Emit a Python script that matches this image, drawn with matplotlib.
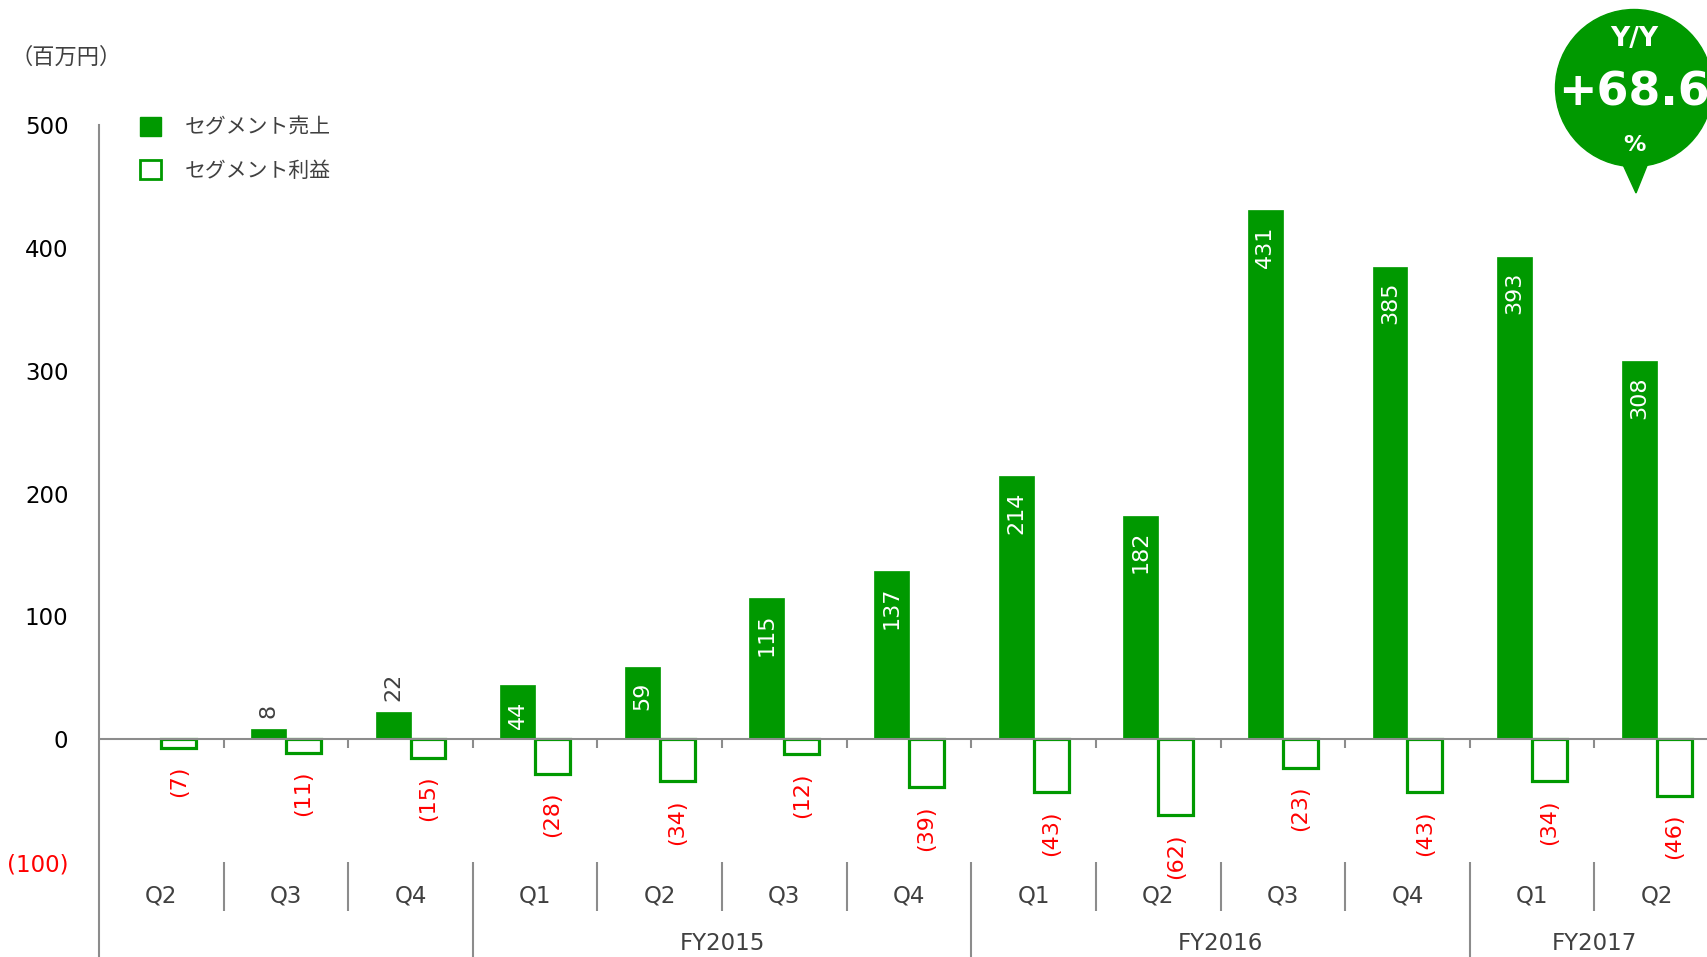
# セグメント売上・利益 (四半期)
import matplotlib.pyplot as plt
from matplotlib.figure import Figure
from matplotlib.axes import Axes
from matplotlib.patches import Patch, Circle, Polygon
import numpy as np

plt.rcParams['font.family'] = ['DejaVu Sans', 'Noto Sans CJK JP']

# データ
quarters = ['Q2', 'Q3', 'Q4', 'Q1', 'Q2', 'Q3', 'Q4', 'Q1', 'Q2', 'Q3', 'Q4', 'Q1', 'Q2']
fiscal_years = ['', 'FY2015', 'FY2016', 'FY2017']
fy_sizes = [3, 4, 4, 2]
sales = [np.nan, 8, 22, 44, 59, 115, 137, 214, 182, 431, 385, 393, 308]
profit = [-7, -11, -15, -28, -34, -12, -39, -43, -62, -23, -43, -34, -46]
yticks = [-100, 0, 100, 200, 300, 400, 500]
ytick_labels = ['(100)', '0', '100', '200', '300', '400', '500']
yoy_value = '+68.6'

GREEN = '#009900'
GRAY = '#404040'
AXIS = '#8c8c8c'
RED = '#ff0000'

W, H = 1708, 957
fig: Figure = plt.figure(figsize=(W / 100, H / 100), dpi=100)
ax: Axes = fig.add_axes([99 / W, 0, 1620 / W, (H - 125.3) / H])

x = np.arange(len(quarters))
w = 0.28
ax.bar(x - w / 2, sales, width=w, color=GREEN, edgecolor=GREEN, linewidth=0.5)
ax.bar(x + w / 2, profit, width=w, facecolor='white', edgecolor=GREEN, linewidth=2.3)

ax.set_xlim(-0.5, len(quarters) - 0.5)
ax.set_ylim(-177.3, 500)

# 値ラベル
for xi, v in zip(x, sales):
    if np.isnan(v):
        continue
    if v >= 40:
        ax.annotate(f'{v:.0f}', (xi - w / 2, v), xytext=(0, -11), textcoords='offset points',
                    rotation=90, ha='center', va='top', color='white', fontsize=16)
    else:
        ax.annotate(f'{v:.0f}', (xi - w / 2, v), xytext=(0, 8), textcoords='offset points',
                    rotation=90, ha='center', va='bottom', color=GRAY, fontsize=16)

for xi, v in zip(x, profit):
    ax.annotate(f'({-v})', (xi + w / 2, v), xytext=(0, -13), textcoords='offset points',
                rotation=90, ha='center', va='top', color=RED, fontsize=16)

# 軸
for s in ['top', 'right', 'bottom']:
    ax.spines[s].set_visible(False)
ax.spines['left'].set_color(AXIS)
ax.spines['left'].set_linewidth(1.5)
ax.axhline(0, color=AXIS, lw=1.5, zorder=3)
ax.set_xticks([])
ax.set_yticks(yticks)
ax.set_yticklabels(ytick_labels)
ax.tick_params(axis='y', length=0, pad=22, labelsize=16.5, labelcolor='black')
ax.get_yticklabels()[0].set_color(RED)

bounds = x[:-1] + 0.5
ax.vlines(bounds, -7, 0, color=AXIS, lw=1.5)

# カテゴリ区切り
group_edges = np.cumsum(fy_sizes)[:-1] - 0.5
for b in bounds:
    if b in group_edges:
        ax.vlines(b, -177.3, -100, color=AXIS, lw=1.5, clip_on=False)
    else:
        ax.vlines(b, -140, -100, color=AXIS, lw=1.5)

for xi, q in zip(x, quarters):
    ax.text(xi, -127.5, q, ha='center', va='center', color=GRAY, fontsize=16.5)

start = 0
for fy, n in zip(fiscal_years, fy_sizes):
    if fy:
        ax.text(start + n / 2 - 0.5, -166.5, fy, ha='center', va='center', color=GRAY, fontsize=16.5)
    start += n

# 凡例
handles = [Patch(facecolor=GREEN, edgecolor=GREEN),
           Patch(facecolor='white', edgecolor=GREEN, linewidth=2)]
fig.legend(handles, ['セグメント売上', 'セグメント利益'], loc='upper left',
           bbox_to_anchor=(140 / W, 1 - 117 / H), frameon=False, fontsize=15,
           handlelength=1.0, handleheight=1.0, handletextpad=1.15, labelspacing=1.1,
           borderpad=0, borderaxespad=0, labelcolor=GRAY)

fig.text(11 / W, 1 - 57 / H, '（百万円）', ha='left', va='center', color=GRAY, fontsize=16)

# Y/Y バッジ
ov: Axes = fig.add_axes([0, 0, 1, 1])
ov.set_xlim(0, W)
ov.set_ylim(H, 0)
ov.axis('off')
ov.add_patch(Circle((1634, 88), 78.5, color=GREEN))
ov.add_patch(Polygon([(1620, 158), (1650, 158), (1636, 193)], closed=True, color=GREEN))
ov.text(1634, 39, 'Y/Y', ha='center', va='center', color='white', fontsize=19, fontweight='bold')
ov.text(1634, 93, yoy_value, ha='center', va='center', color='white', fontsize=33, fontweight='bold')
ov.text(1634, 145, '%', ha='center', va='center', color='white', fontsize=16, fontweight='bold')

fig.savefig('out.png', dpi=100)
